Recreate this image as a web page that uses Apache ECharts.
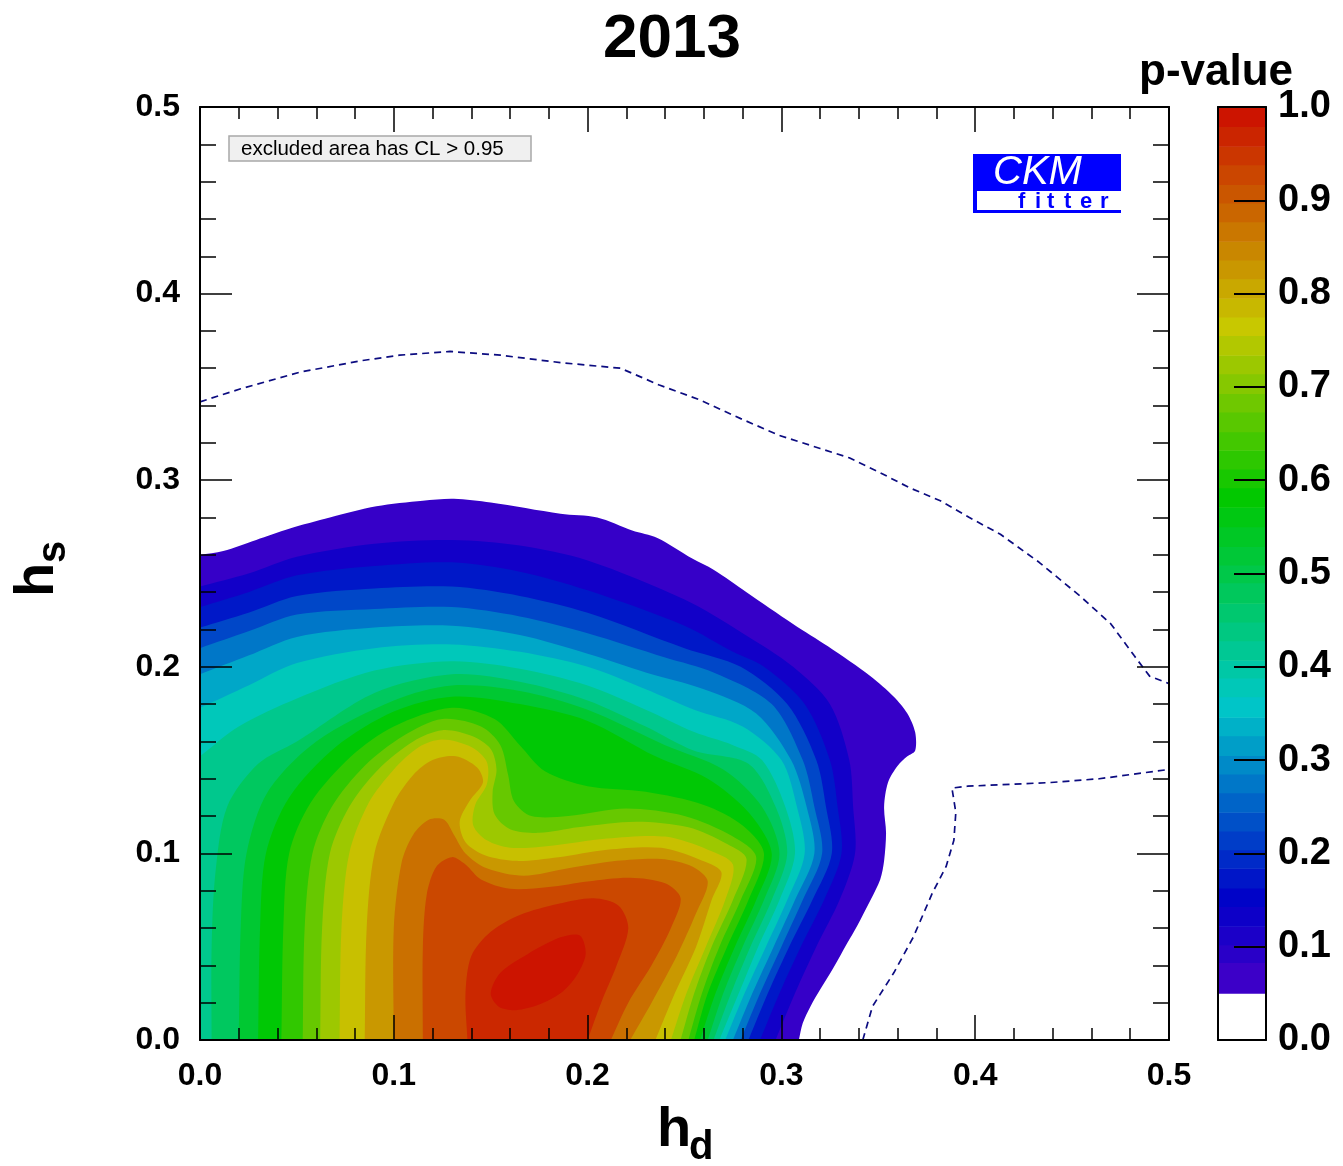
<!DOCTYPE html>
<html>
<head>
<meta charset="utf-8">
<title>2013 p-value</title>
<script src="https://cdn.jsdelivr.net/npm/echarts@6/dist/echarts.min.js"></script>
<style>
html, body { margin: 0; padding: 0; background: #fff; }
#chart { width: 1343px; height: 1166px; }
</style>
</head>
<body>
<div id="chart"></div>
<script>
// p-value contour levels (each array below is the boundary p > level, in [hd, hs])
const levels = [0.05, 0.10, 0.15, 0.20, 0.25, 0.30, 0.35, 0.40, 0.45, 0.50,
                0.55, 0.60, 0.65, 0.70, 0.75, 0.80, 0.85, 0.90, 0.95, 0.98];

const c05 = [[0,0.26],[0.012,0.262],[0.029,0.268],[0.046,0.274],[0.067,0.28],[0.091,0.286],[0.115,0.289],[0.131,0.29],[0.15,0.288],[0.186,0.282],[0.205,0.28],[0.223,0.273],[0.236,0.269],[0.254,0.258],[0.265,0.252],[0.282,0.24],[0.306,0.223],[0.324,0.211],[0.346,0.195],[0.358,0.184],[0.365,0.175],[0.369,0.165],[0.369,0.155],[0.365,0.152],[0.36,0.147],[0.355,0.138],[0.353,0.125],[0.354,0.111],[0.353,0.096],[0.351,0.086],[0.346,0.075],[0.339,0.061],[0.334,0.052],[0.327,0.039],[0.32,0.027],[0.315,0.018],[0.311,0.009],[0.309,0]];
const c10 = [[0,0.243],[0.025,0.25],[0.05,0.259],[0.09,0.266],[0.13,0.268],[0.165,0.265],[0.2,0.257],[0.25,0.236],[0.28,0.218],[0.306,0.2],[0.325,0.18],[0.335,0.15],[0.337,0.125],[0.338,0.1],[0.33,0.075],[0.318,0.05],[0.307,0.025],[0.297,0]];
const c15 = [[0,0.232],[0.025,0.24],[0.05,0.249],[0.09,0.254],[0.13,0.256],[0.165,0.251],[0.2,0.241],[0.25,0.222],[0.275,0.208],[0.291,0.2],[0.312,0.18],[0.325,0.15],[0.329,0.125],[0.331,0.1],[0.322,0.075],[0.31,0.05],[0.299,0.025],[0.289,0]];
const c20 = [[0,0.221],[0.025,0.229],[0.05,0.238],[0.09,0.242],[0.13,0.243],[0.165,0.238],[0.2,0.229],[0.25,0.21],[0.279,0.2],[0.303,0.18],[0.318,0.15],[0.323,0.125],[0.326,0.1],[0.316,0.075],[0.304,0.05],[0.293,0.025],[0.283,0]];
const c25 = [[0,0.21],[0.025,0.219],[0.05,0.228],[0.09,0.231],[0.13,0.232],[0.165,0.227],[0.2,0.218],[0.24,0.205],[0.265,0.197],[0.295,0.18],[0.311,0.15],[0.317,0.125],[0.321,0.1],[0.311,0.075],[0.3,0.05],[0.289,0.025],[0.279,0]];
const c30 = [[0,0.196],[0.025,0.206],[0.05,0.216],[0.09,0.221],[0.13,0.222],[0.165,0.217],[0.2,0.207],[0.23,0.197],[0.26,0.188],[0.287,0.175],[0.305,0.15],[0.313,0.125],[0.317,0.1],[0.307,0.075],[0.296,0.05],[0.285,0.025],[0.275,0]];
const c35 = [[0,0.178],[0.025,0.19],[0.05,0.202],[0.09,0.21],[0.13,0.212],[0.165,0.208],[0.2,0.2],[0.23,0.188],[0.255,0.177],[0.28,0.168],[0.3,0.15],[0.308,0.125],[0.312,0.1],[0.303,0.075],[0.292,0.05],[0.281,0.025],[0.271,0]];
const c40 = [[0,0.152],[0.02,0.168],[0.05,0.183],[0.09,0.198],[0.13,0.203],[0.165,0.199],[0.2,0.19],[0.23,0.177],[0.255,0.165],[0.275,0.158],[0.29,0.15],[0.302,0.125],[0.307,0.1],[0.299,0.075],[0.288,0.05],[0.278,0.025],[0.268,0]];
const c45 = [[0.006,0],[0.006,0.05],[0.008,0.09],[0.014,0.125],[0.03,0.148],[0.05,0.16],[0.09,0.186],[0.13,0.196],[0.165,0.192],[0.2,0.182],[0.23,0.168],[0.255,0.155],[0.283,0.148],[0.297,0.125],[0.303,0.1],[0.295,0.075],[0.284,0.05],[0.274,0.025],[0.265,0]];
const c50 = [[0.02,0],[0.021,0.06],[0.024,0.1],[0.035,0.133],[0.06,0.16],[0.1,0.182],[0.13,0.19],[0.165,0.187],[0.2,0.177],[0.24,0.158],[0.27,0.145],[0.29,0.125],[0.299,0.1],[0.291,0.075],[0.28,0.05],[0.27,0.025],[0.262,0]];
const c55 = [[0.03,0],[0.031,0.06],[0.034,0.1],[0.046,0.13],[0.07,0.157],[0.1,0.176],[0.13,0.184],[0.165,0.18],[0.2,0.171],[0.235,0.152],[0.262,0.14],[0.283,0.122],[0.295,0.1],[0.287,0.075],[0.276,0.05],[0.266,0.025],[0.258,0]];
const c60 = [[0.042,0],[0.043,0.06],[0.046,0.1],[0.057,0.127],[0.078,0.152],[0.1,0.168],[0.13,0.178],[0.152,0.172],[0.165,0.158],[0.178,0.144],[0.2,0.136],[0.23,0.133],[0.26,0.126],[0.28,0.115],[0.291,0.1],[0.283,0.075],[0.272,0.05],[0.262,0.025],[0.255,0]];
const c65 = [[0.053,0],[0.054,0.06],[0.058,0.1],[0.068,0.125],[0.085,0.147],[0.105,0.163],[0.125,0.172],[0.145,0.168],[0.155,0.158],[0.159,0.142],[0.162,0.128],[0.171,0.12],[0.19,0.12],[0.22,0.124],[0.25,0.12],[0.275,0.109],[0.287,0.098],[0.279,0.075],[0.268,0.05],[0.259,0.025],[0.252,0]];
const c70 = [[0.062,0],[0.063,0.06],[0.067,0.1],[0.077,0.125],[0.092,0.145],[0.11,0.16],[0.125,0.166],[0.14,0.163],[0.15,0.156],[0.153,0.145],[0.151,0.133],[0.152,0.121],[0.16,0.113],[0.175,0.111],[0.195,0.114],[0.225,0.117],[0.252,0.114],[0.272,0.105],[0.282,0.097],[0.275,0.075],[0.264,0.05],[0.255,0.025],[0.248,0]];
const c75 = [[0.072,0],[0.073,0.06],[0.077,0.1],[0.087,0.127],[0.1,0.145],[0.113,0.157],[0.125,0.161],[0.14,0.157],[0.148,0.149],[0.148,0.137],[0.142,0.126],[0.141,0.115],[0.148,0.107],[0.16,0.103],[0.18,0.104],[0.21,0.108],[0.24,0.109],[0.262,0.102],[0.275,0.094],[0.271,0.075],[0.261,0.05],[0.251,0.025],[0.243,0]];
const c80 = [[0.085,0],[0.086,0.06],[0.09,0.1],[0.1,0.127],[0.11,0.142],[0.12,0.15],[0.132,0.152],[0.143,0.146],[0.146,0.138],[0.139,0.128],[0.134,0.117],[0.137,0.106],[0.147,0.099],[0.163,0.096],[0.185,0.098],[0.21,0.102],[0.238,0.103],[0.257,0.097],[0.269,0.09],[0.264,0.075],[0.256,0.05],[0.245,0.025],[0.235,0]];
const c85 = [[0.1,0],[0.1,0.06],[0.104,0.095],[0.11,0.11],[0.118,0.118],[0.126,0.118],[0.131,0.11],[0.137,0.1],[0.148,0.092],[0.167,0.088],[0.19,0.092],[0.215,0.096],[0.238,0.097],[0.254,0.093],[0.262,0.085],[0.256,0.068],[0.246,0.045],[0.233,0.02],[0.222,0]];
const c90 = [[0.115,0],[0.115,0.05],[0.117,0.078],[0.122,0.093],[0.13,0.098],[0.137,0.094],[0.145,0.086],[0.16,0.081],[0.18,0.082],[0.2,0.085],[0.222,0.087],[0.24,0.084],[0.248,0.076],[0.243,0.06],[0.233,0.04],[0.221,0.02],[0.212,0]];
const c95 = [[0.138,0],[0.137,0.025],[0.14,0.045],[0.15,0.058],[0.165,0.067],[0.185,0.073],[0.203,0.076],[0.216,0.072],[0.221,0.06],[0.215,0.04],[0.207,0.02],[0.2,0]];
const c98 = [[0.15,0.025],[0.155,0.036],[0.169,0.046],[0.186,0.055],[0.196,0.056],[0.199,0.046],[0.194,0.034],[0.186,0.025],[0.175,0.019],[0.163,0.016],[0.154,0.018]];

const contours = [c05, c10, c15, c20, c25, c30, c35, c40, c45, c50,
                  c55, c60, c65, c70, c75, c80, c85, c90, c95, c98];

// dashed contour of the excluded area
const dashUpper = [[0,0.342],[0.021,0.349],[0.052,0.358],[0.083,0.364],[0.103,0.367],[0.129,0.369],[0.155,0.367],[0.186,0.363],[0.217,0.36],[0.237,0.351],[0.258,0.343],[0.279,0.333],[0.299,0.324],[0.32,0.317],[0.335,0.312],[0.351,0.304],[0.366,0.296],[0.382,0.289],[0.397,0.28],[0.413,0.271],[0.433,0.256],[0.454,0.238],[0.47,0.223],[0.482,0.206],[0.49,0.195],[0.5,0.191]];
const dashLower = [[0.342,0],[0.347,0.018],[0.358,0.036],[0.368,0.055],[0.378,0.079],[0.385,0.093],[0.389,0.107],[0.39,0.122],[0.388,0.135],[0.396,0.136],[0.439,0.138],[0.464,0.14],[0.5,0.145]];

// colour bar band edges
const barEdges = [0.05, 0.083, 0.102, 0.122, 0.143, 0.163, 0.184, 0.204, 0.224, 0.244, 0.265, 0.285,
                  0.305, 0.326, 0.346, 0.368, 0.388, 0.407, 0.428, 0.448, 0.468, 0.49, 0.509, 0.529,
                  0.55, 0.571, 0.592, 0.612, 0.632, 0.652, 0.673, 0.693, 0.714, 0.734, 0.755, 0.775,
                  0.795, 0.816, 0.836, 0.856, 0.877, 0.897, 0.917, 0.938, 0.958, 0.979, 1.0];

// rainbow palette
const stops = [[0.05,[72,0,200]],[0.15,[0,0,200]],[0.36,[0,200,200]],[0.58,[0,200,0]],[0.765,[200,200,0]],[1.0,[204,12,0]]];
function ramp(v) {
  if (v <= stops[0][0]) return 'rgb(' + stops[0][1].join(',') + ')';
  for (let i = 1; i < stops.length; i++) {
    if (v <= stops[i][0]) {
      const a = stops[i - 1], b = stops[i];
      const t = (v - a[0]) / (b[0] - a[0]);
      const c = a[1].map((x, k) => Math.round(x + (b[1][k] - x) * t));
      return 'rgb(' + c.join(',') + ')';
    }
  }
  return 'rgb(' + stops[stops.length - 1][1].join(',') + ')';
}

const FONT = '"Liberation Sans", Arial, Helvetica, sans-serif';
const chart = echarts.init(document.getElementById('chart'));

// continue a contour a little beyond the frame so the smoothing stays clean at the edges
const ext = (a, b) => [2 * a[0] - b[0], 2 * a[1] - b[1]];

function contourItem(params, api) {
  const i = params.dataIndex;
  const line = contours[i];
  let pts = line.map(p => api.coord(p));
  const o = api.coord([0, 0]);
  const far = 200;
  const first = line[0];
  const n = pts.length;
  if (first[0] === 0 && first[1] > 0) {
    const e0 = ext(pts[0], pts[1]), e1 = ext(pts[n - 1], pts[n - 2]);
    pts = [[o[0] - far, e0[1]], e0].concat(pts, [e1, [e1[0], o[1] + far], [o[0] - far, o[1] + far]]);
  } else if (first[1] === 0) {
    const e0 = ext(pts[0], pts[1]), e1 = ext(pts[n - 1], pts[n - 2]);
    pts = [[e0[0], o[1] + far], e0].concat(pts, [e1, [e1[0], o[1] + far]]);
  }
  const mid = (levels[i] + (i + 1 < levels.length ? levels[i + 1] : 1)) / 2;
  return { type: 'polygon', shape: { points: pts, smooth: 0.3 }, style: { fill: ramp(mid) } };
}

function barItem(params, api) {
  const i = params.dataIndex;
  const lo = barEdges[i], hi = barEdges[i + 1];
  const p1 = api.coord([0, hi]);
  const p2 = api.coord([1, lo]);
  return { type: 'rect', shape: { x: p1[0], y: p1[1], width: p2[0] - p1[0], height: p2[1] - p1[1] + 0.5 },
           style: { fill: ramp((lo + hi) / 2) } };
}

const blackLine = { show: true, onZero: false, lineStyle: { color: '#000', width: 2 } };
function frameAxis(extra) {
  return Object.assign({
    type: 'value', z: 10, splitLine: { show: false }, axisLine: blackLine
  }, extra);
}
const tickStyle = { color: '#000', width: 1.5 };
const labelStyle = { show: true, color: '#000', fontWeight: 'bold', fontFamily: FONT, formatter: v => v.toFixed(1) };

chart.setOption({
  animation: false,
  backgroundColor: '#fff',
  grid: [
    { left: 200, top: 107, width: 969, height: 933, outerBoundsMode: 'none' },
    { left: 1218, top: 107, width: 48, height: 933, outerBoundsMode: 'none' }
  ],
  xAxis: [
    frameAxis({ gridIndex: 0, min: 0, max: 0.5, interval: 0.1, position: 'bottom',
      axisTick: { show: true, inside: true, length: 25, lineStyle: tickStyle },
      minorTick: { show: true, splitNumber: 5, length: 12, lineStyle: tickStyle },
      axisLabel: Object.assign({ margin: 20, fontSize: 32 }, labelStyle) }),
    frameAxis({ gridIndex: 0, min: 0, max: 0.5, interval: 0.1, position: 'top',
      axisTick: { show: true, inside: true, length: 25, lineStyle: tickStyle },
      minorTick: { show: true, splitNumber: 5, length: 12, lineStyle: tickStyle },
      axisLabel: { show: false } }),
    frameAxis({ gridIndex: 1, min: 0, max: 1, position: 'bottom',
      axisTick: { show: false }, axisLabel: { show: false } }),
    frameAxis({ gridIndex: 1, min: 0, max: 1, position: 'top',
      axisTick: { show: false }, axisLabel: { show: false } })
  ],
  yAxis: [
    frameAxis({ gridIndex: 0, min: 0, max: 0.5, interval: 0.1, position: 'left',
      axisTick: { show: true, inside: true, length: 32, lineStyle: tickStyle },
      minorTick: { show: true, splitNumber: 5, length: 16, lineStyle: tickStyle },
      axisLabel: Object.assign({ margin: 20, fontSize: 32 }, labelStyle) }),
    frameAxis({ gridIndex: 0, min: 0, max: 0.5, interval: 0.1, position: 'right',
      axisTick: { show: true, inside: true, length: 32, lineStyle: tickStyle },
      minorTick: { show: true, splitNumber: 5, length: 16, lineStyle: tickStyle },
      axisLabel: { show: false } }),
    frameAxis({ gridIndex: 1, min: 0, max: 1, interval: 0.1, position: 'right',
      axisTick: { show: true, inside: true, length: 32, lineStyle: { color: '#000', width: 2 } },
      axisLabel: Object.assign({ margin: 12, fontSize: 38 }, labelStyle) }),
    frameAxis({ gridIndex: 1, min: 0, max: 1, position: 'left',
      axisTick: { show: false }, axisLabel: { show: false } })
  ],
  series: [
    { type: 'custom', xAxisIndex: 0, yAxisIndex: 0, clip: true, z: 2,
      renderItem: contourItem, data: contours.map(() => [0, 0]) },
    { type: 'line', xAxisIndex: 0, yAxisIndex: 0, data: dashUpper, symbol: 'none', z: 5, clip: true,
      lineStyle: { color: '#0c0c80', width: 1.7, type: [7, 5] } },
    { type: 'line', xAxisIndex: 0, yAxisIndex: 0, data: dashLower, symbol: 'none', z: 5, clip: true,
      lineStyle: { color: '#0c0c80', width: 1.7, type: [7, 5] } },
    { type: 'custom', xAxisIndex: 2, yAxisIndex: 2, clip: true, z: 2,
      renderItem: barItem, data: barEdges.slice(1).map(() => [0, 0]) }
  ],
  graphic: [
    { type: 'text', x: 672, y: 40, z: 20, style: { text: '2013', font: 'bold 62px ' + FONT, fill: '#000',
      textAlign: 'center', textVerticalAlign: 'middle', verticalAlign: 'middle' } },
    { type: 'text', x: 1139, y: 73, z: 20, style: { text: 'p-value', font: 'bold 44px ' + FONT, fill: '#000',
      textAlign: 'left', textVerticalAlign: 'middle', verticalAlign: 'middle' } },
    { type: 'text', x: 657, y: 1131, z: 20, style: { text: 'h', font: 'bold 56px ' + FONT, fill: '#000',
      textAlign: 'left', textVerticalAlign: 'middle', verticalAlign: 'middle' } },
    { type: 'text', x: 689, y: 1148, z: 20, style: { text: 'd', font: 'bold 40px ' + FONT, fill: '#000',
      textAlign: 'left', textVerticalAlign: 'middle', verticalAlign: 'middle' } },
    { type: 'group', x: 0, y: 597, rotation: Math.PI / 2, z: 20, children: [
      { type: 'text', x: 0, y: 38, style: { text: 'h', font: 'bold 56px ' + FONT, fill: '#000',
        textAlign: 'left', textVerticalAlign: 'middle', verticalAlign: 'middle' } },
      { type: 'text', x: 34, y: 54, style: { text: 's', font: 'bold 40px ' + FONT, fill: '#000',
        textAlign: 'left', textVerticalAlign: 'middle', verticalAlign: 'middle' } }
    ] },
    { type: 'rect', z: 20, shape: { x: 229, y: 136, width: 302, height: 25 },
      style: { fill: '#f0f0f0', stroke: '#a8a8a8', lineWidth: 1.5 } },
    { type: 'text', x: 241, y: 149, z: 21, style: { text: 'excluded area has CL > 0.95', font: '20.5px ' + FONT,
      fill: '#000', textAlign: 'left', textVerticalAlign: 'middle', verticalAlign: 'middle' } },
    { type: 'rect', z: 20, shape: { x: 973, y: 154, width: 148, height: 59 }, style: { fill: '#0000ff' } },
    { type: 'rect', z: 21, shape: { x: 977, y: 191, width: 144, height: 19 }, style: { fill: '#ffffff' } },
    { type: 'text', x: 993, y: 173, z: 22, style: { text: 'CKM', font: 'italic 40px ' + FONT, fill: '#ffffff',
      textAlign: 'left', textVerticalAlign: 'middle', verticalAlign: 'middle' } }
  ].concat(['f', 'i', 't', 't', 'e', 'r'].map((ch, k) => ({
    type: 'text', x: [1018, 1035, 1047, 1064, 1080, 1100][k], y: 202, z: 22,
    style: { text: ch, font: 'bold 22px ' + FONT, fill: '#0000ff', textAlign: 'left',
      textVerticalAlign: 'middle', verticalAlign: 'middle' }
  })))
});
</script>
</body>
</html>
